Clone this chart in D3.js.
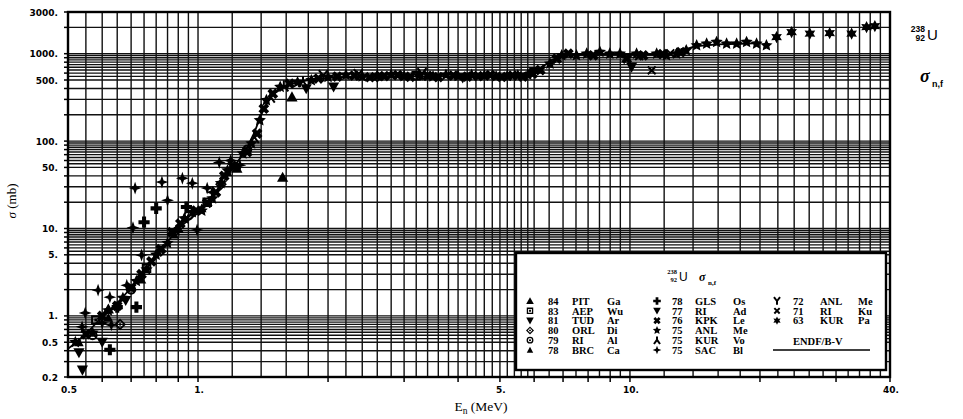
<!DOCTYPE html>
<html><head><meta charset="utf-8">
<script src="https://cdn.jsdelivr.net/npm/d3@7"></script>
<style>body{margin:0;background:#fff}svg{display:block}</style>
</head><body><svg id="c" width="963" height="419"></svg>
<script>
// ---------------- data ----------------
const xTickLabels = [0.5, 1, 5, 10, 40];
const xTickText = ["0.5", "1.", "5.", "10.", "40."];
const yTickLabels = [0.2, 0.5, 1, 5, 10, 50, 100, 500, 1000, 3000];
const yTickText = ["0.2", "0.5", "1.", "5.", "10.", "50.", "100.", "500.", "1000.", "3000."];

// ENDF/B-V evaluation
const endfE = [0.5,0.55,0.6,0.65,0.7,0.75,0.8,0.85,0.9,0.95,1.0,1.05,1.1,1.15,1.2,1.25,1.3,1.35,1.4,1.45,1.5,
  1.6,1.7,1.8,2.0,2.5,3.0,3.5,4.0,4.5,5.0,5.5,6.0,6.3,6.6,7.0,7.5,8,9,10,11,12,12.5,13,13.5,14,15,16,18,20];
const endfS = [0.42,0.62,0.98,1.4,2.1,3.2,4.8,7.0,10,12.5,15,19,25,35,48,63,85,125,200,280,350,
  430,470,500,530,545,550,550,555,555,550,560,610,720,850,940,975,985,990,990,980,985,1010,1060,1130,1200,1250,1280,1300,1320];

// measurements (E in MeV, sigma in mb)
const pit84E = [1.57, 1.65, 1.23, 0.62, 0.9];
const pit84S = [38.6, 320, 49, 1.2, 10];
const aep83E = [0.58, 0.76, 1.05, 3.2];
const aep83S = [0.9, 3.5, 20, 560];
const tud81E = [0.54, 0.53, 0.6, 0.68];
const tud81S = [0.24, 0.38, 0.5, 1.5];
const orl80E = [0.66, 0.82, 1.13, 2.6];
const orl80S = [0.8, 5.5, 32, 545];
const ri79E = [0.57, 0.7, 0.95, 1.3];
const ri79S = [0.6, 2.0, 14, 80];
const brc78E = [0.53, 0.62, 0.74, 0.88, 1.02, 1.17];
const brc78S = [0.5, 0.95, 2.6, 8.5, 17, 44];
const gls78E = [0.625, 0.72, 0.75, 0.8, 0.94, 0.65];
const gls78S = [0.41, 1.26, 11.8, 17, 17.6, 1.26];
const ri77E = [2.06, 1.78, 6.0, 10.09, 4.1];
const ri77S = [416, 398, 620, 703, 530];
const kpk76E = [0.55,0.6,0.65,0.7,0.74,0.78,0.82,0.87,0.91,0.99,1.05,1.1,1.15,1.2,1.3,1.37,1.42,1.49,1.63,
  1.9,2.1,2.3,2.5,2.7,2.9,3.1,3.4,3.6,3.9,4.2,4.45,4.75,5.05,5.35,5.65,5.95,
  6.2,6.77,7.2,8.22,9.83,10.73,11.9,13.1];
const kpk76S = [0.62,1.0,1.3,2.1,3.0,4.2,5.8,9.1,11.4,16,19.6,26,40,52,75,122,235,349,454,
  520,548,562,538,555,568,545,558,540,562,548,555,570,542,560,548,590,
  650,877,1000,957,877,957,990,1040];
const anl75E = [0.52,0.57,0.62,0.67,0.72,0.76,0.8,0.85,0.89,0.93,0.97,1.02,1.08,1.13,1.17,1.27,1.33,1.39,1.44,1.55,1.7,1.83,
  2.0,2.2,2.4,2.6,2.8,3.0,3.25,3.5,3.75,4.0,4.3,4.6,4.9,5.2,5.5,5.8,
  6.53,6.95,7.52,7.94,8.52,8.98,9.48,10.36,11.53,12.15,12.82,13.5,14.27,15.05,15.87,16.74,17.66,18.62,19.64,20.7];
const anl75S = [0.5,0.64,1.15,1.6,2.5,3.4,5.0,6.8,9.5,13,15.3,16,22,33,46,72,94,173,293,416,470,496,
  540,570,548,560,575,552,565,548,570,556,572,560,548,556,565,575,
  769,957,957,1000,1045,1000,1000,1000,1000,957,1000,1092,1245,1302,1358,1302,1302,1358,1302,1245];
const kur75E = [1.35, 1.47, 1.58, 1.75];
const kur75S = [110, 320, 430, 480];
const sac75E = [0.539,0.548,0.587,0.625,0.684,0.707,0.715,0.74,0.825,0.85,0.92,0.97,1.05,1.08,1.12,1.19,1.25,0.995,0.6,0.63];
const sac75S = [0.75,1.08,1.97,1.64,2.24,10.2,29,4.97,34,21,37.6,33,29,26,57,60,53,9.6,0.83,0.79];
const anl72E = [1.95, 2.35, 3.3];
const anl72S = [560, 575, 590];
const ri71E = [11.23, 10.5, 12.4];
const ri71S = [645, 940, 1010];
const kur63E = [21.85, 23.67, 26.1, 29.0, 32.6, 35.3, 36.9];
const kur63S = [1550, 1767, 1695, 1722, 1695, 2015, 2070];

const legendYears = ["84","83","81","80","79","78","78","77","76","75","75","75","72","71","63"];
const legendLabs  = ["PIT","AEP","TUD","ORL","RI","BRC","GLS","RI","KPK","ANL","KUR","SAC","ANL","RI","KUR"];
const legendAuth  = ["Ga","Wu","Ar","Di","Al","Ca","Os","Ad","Le","Me","Vo","Bl","Me","Ku","Pa"];
const legendShape = ["triUp","sqDot","triDown","diaDot","circDot","triSmall","plus","triDown","cross","star5","lambda","star4","Y","x","star6"];
const seriesE = [pit84E,aep83E,tud81E,orl80E,ri79E,brc78E,gls78E,ri77E,kpk76E,anl75E,kur75E,sac75E,anl72E,ri71E,kur63E];
const seriesS = [pit84S,aep83S,tud81S,orl80S,ri79S,brc78S,gls78S,ri77S,kpk76S,anl75S,kur75S,sac75S,anl72S,ri71S,kur63S];

// ---------------- drawing ----------------
const svg = d3.select("#c");
const X0 = 68, X1 = 890, Y0 = 377, Y1 = 12;
const x = d3.scaleLog().domain([0.5, 40]).range([X0, X1]);
const y = d3.scaleLog().domain([0.2, 3000]).range([Y0, Y1]);

// grid
const xGrid = [].concat(d3.range(0.55, 1.0001, 0.05), d3.range(1.2, 6.0001, 0.2), d3.range(6.5, 10.0001, 0.5), d3.range(12, 39.9, 2));
const mant = [1,2,3,4,5,5.5,6,6.5,7,7.5,8,8.5,9,9.5];
const yGrid = [];
for (let k = -1; k <= 3; k++) mant.forEach(m => { const v = m * Math.pow(10, k); if (v > 0.2001 && v < 2999) yGrid.push(v); });

const g = svg.append("g");
g.selectAll("line.vg").data(xGrid).join("line")
  .attr("x1", d => x(d)).attr("x2", d => x(d)).attr("y1", Y1).attr("y2", Y0)
  .attr("stroke", "#111").attr("stroke-width", 1.4);
g.selectAll("line.hg").data(yGrid).join("line")
  .attr("x1", X0).attr("x2", X1).attr("y1", d => y(d)).attr("y2", d => y(d))
  .attr("stroke", "#111").attr("stroke-width", 1.4);

// frame
svg.append("rect").attr("x", X0).attr("y", Y1).attr("width", X1 - X0).attr("height", Y0 - Y1)
  .attr("fill", "none").attr("stroke", "#000").attr("stroke-width", 2.4);

// bottom ticks
const xMinor = [0.6,0.7,0.8,0.9,1,2,3,4,5,6,7,8,9,10,20,30,40];
svg.selectAll("line.xt").data(xMinor).join("line")
  .attr("x1", d => x(d)).attr("x2", d => x(d)).attr("y1", Y0).attr("y2", Y0 + 5)
  .attr("stroke", "#000").attr("stroke-width", 1.5);
// left ticks
const yMinor = [];
for (let k = -1; k <= 3; k++) [1,2,3,4,5,6,7,8,9].forEach(m => { const v = m * Math.pow(10, k); if (v >= 0.2 && v <= 3000) yMinor.push(v); });
svg.selectAll("line.yt").data(yMinor).join("line")
  .attr("x1", X0 - 4).attr("x2", X0).attr("y1", d => y(d)).attr("y2", d => y(d))
  .attr("stroke", "#000").attr("stroke-width", 1.5);

// tick labels
const tickFont = "'DejaVu Sans', sans-serif";
svg.selectAll("text.yl").data(yTickLabels).join("text")
  .attr("x", 58).attr("y", d => y(d) + 3.5).attr("text-anchor", "end")
  .attr("font-family", tickFont).attr("font-weight", "bold").attr("font-size", 9)
  .text((d, i) => yTickText[i]);
svg.selectAll("text.xl").data(xTickLabels).join("text")
  .attr("x", d => x(d) + 1).attr("y", 393).attr("text-anchor", "middle")
  .attr("font-family", tickFont).attr("font-weight", "bold").attr("font-size", 9)
  .text((d, i) => xTickText[i]);

// axis titles
const xt = svg.append("text").attr("x", 481).attr("y", 411).attr("text-anchor", "middle")
  .attr("font-family", "'Liberation Serif', serif").attr("font-size", 13.5);
xt.append("tspan").text("E");
xt.append("tspan").attr("font-size", 9.5).attr("dy", 3).text("n");
xt.append("tspan").attr("dy", -3).text(" (MeV)");
svg.append("text").attr("transform", "translate(16,201) rotate(-90)").attr("text-anchor", "middle")
  .attr("font-family", "'Liberation Serif', serif").attr("font-size", 13)
  .html('<tspan font-style="italic">σ</tspan> (mb)');

// right title
const rt = svg.append("g").attr("font-family", "'Liberation Sans', Arial, sans-serif").attr("font-weight", "bold");
rt.append("text").attr("x", 925).attr("y", 31.5).attr("text-anchor", "end").attr("font-size", 8.5).text("238");
rt.append("text").attr("x", 925).attr("y", 41).attr("text-anchor", "end").attr("font-size", 8.5).text("92");
rt.append("text").attr("x", 927).attr("y", 40).attr("font-size", 15).attr("font-weight", "normal").text("U");
rt.append("text").attr("x", 920).attr("y", 82).attr("font-size", 18).attr("font-style", "italic")
  .attr("font-family", "'Liberation Serif', serif").text("σ");
rt.append("text").attr("x", 932).attr("y", 87).attr("font-size", 9).text("n,f");

// symbol shapes
function poly(pts) { return "M" + pts.map(p => p[0].toFixed(2) + "," + p[1].toFixed(2)).join("L") + "Z"; }
function star(n, ro, ri, rot) {
  const pts = [];
  for (let i = 0; i < 2 * n; i++) {
    const a = rot + i * Math.PI / n, rr = i % 2 ? ri : ro;
    pts.push([rr * Math.sin(a), -rr * Math.cos(a)]);
  }
  return poly(pts);
}
function sq(h) { return poly([[-h,-h],[h,-h],[h,h],[-h,h]]); }
function dia(h) { return poly([[0,-h],[h,0],[0,h],[-h,0]]); }
function circ(r) { return `M${r},0A${r},${r} 0 1,1 ${-r},0A${r},${r} 0 1,1 ${r},0Z`; }
function plusPts(r, w) { return [[-w,-r],[w,-r],[w,-w],[r,-w],[r,w],[w,w],[w,r],[-w,r],[-w,w],[-r,w],[-r,-w],[-w,-w]]; }
function shape(t, r) {
  switch (t) {
    case "triUp": return { d: poly([[0,-r],[r,r*0.8],[-r,r*0.8]]), m: "fill" };
    case "triSmall": return { d: poly([[0,-r*0.85],[r*0.85,r*0.7],[-r*0.85,r*0.7]]), m: "fill" };
    case "triDown": return { d: poly([[0,r],[r,-r*0.8],[-r,-r*0.8]]), m: "fill" };
    case "plus": return { d: poly(plusPts(r, r * 0.36)), m: "fill" };
    case "cross": { const c = Math.SQRT1_2; return { d: poly(plusPts(r, r * 0.36).map(p => [c*(p[0]-p[1]), c*(p[0]+p[1])])), m: "fill" }; }
    case "star5": return { d: star(5, r * 1.15, r * 0.55, 0), m: "fill" };
    case "star4": return { d: star(4, r * 1.15, r * 0.42, 0), m: "fill" };
    case "star6": return { d: star(6, r * 1.1, r * 0.6, 0), m: "fill" };
    case "sqDot": return { d: sq(r*0.85) + sq(r*0.5) + sq(r*0.25), m: "evenodd" };
    case "circDot": return { d: circ(r*0.9) + circ(r*0.55) + circ(r*0.27), m: "evenodd" };
    case "diaDot": return { d: dia(r*1.05) + dia(r*0.6) + dia(r*0.3), m: "evenodd" };
    case "lambda": return { d: `M0,${-r}L0,${-r*0.1}M${-r*0.8},${r}L0,${-r*0.1}L${r*0.8},${r}`, m: "stroke" };
    case "Y": return { d: `M${-r*0.8},${-r}L0,0L${r*0.8},${-r}M0,0L0,${r}`, m: "stroke" };
    case "x": return { d: `M${-r*0.7},${-r*0.7}L${r*0.7},${r*0.7}M${r*0.7},${-r*0.7}L${-r*0.7},${r*0.7}`, m: "stroke" };
  }
}
function drawSym(sel, t, r) {
  const s = shape(t, r);
  sel.attr("d", s.d);
  if (s.m === "stroke") sel.attr("fill", "none").attr("stroke", "#000").attr("stroke-width", 2);
  else sel.attr("fill", "#000").attr("fill-rule", s.m === "evenodd" ? "evenodd" : "nonzero");
}

// ENDF line
const line = d3.line().x(d => x(d[0])).y(d => y(d[1]));
svg.append("path").datum(endfE.map((e, i) => [e, endfS[i]])).attr("d", line)
  .attr("fill", "none").attr("stroke", "#000").attr("stroke-width", 1.8);

// markers
const mk = svg.append("g");
seriesE.forEach((es, si) => {
  const pts = es.map((e, i) => [e, seriesS[si][i]]);
  mk.selectAll(null).data(pts).join("path")
    .attr("transform", d => `translate(${x(d[0])},${y(d[1])})`)
    .each(function () { drawSym(d3.select(this), legendShape[si], 5.6); });
});

// legend
const L = svg.append("g");
L.append("rect").attr("x", 516).attr("y", 253).attr("width", 370).attr("height", 117)
  .attr("fill", "#fff").attr("stroke", "#000").attr("stroke-width", 2.4);
const lt = L.append("g").attr("font-family", "'Liberation Serif', serif").attr("font-weight", "bold");
lt.append("text").attr("x", 677).attr("y", 273.5).attr("text-anchor", "end").attr("font-size", 6.5).text("238");
lt.append("text").attr("x", 677).attr("y", 281.5).attr("text-anchor", "end").attr("font-size", 6.5).text("92");
lt.append("text").attr("x", 679).attr("y", 281).attr("font-size", 12).attr("font-weight", "normal").attr("font-family", "'Liberation Sans', sans-serif").text("U");
lt.append("text").attr("x", 699).attr("y", 281).attr("font-size", 12).attr("font-style", "italic").text("σ");
lt.append("text").attr("x", 708).attr("y", 284.5).attr("font-size", 7).text("n,f");

const colSym = [530, 657, 777], colYear = [548, 672, 793], colLab = [572, 695, 820], colAuth = [607, 733, 858];
const rowY = [301, 310.8, 320.6, 330.4, 340.2, 350];
legendYears.forEach((yr, i) => {
  const c = Math.floor(i / 6), r = i % 6;
  const cy = rowY[r];
  L.append("path").attr("transform", `translate(${colSym[c]},${cy})`).call(s => drawSym(s, legendShape[i], 3.8));
  const tg = L.append("g").attr("font-family", "'Liberation Serif', serif").attr("font-weight", "bold").attr("font-size", 10.5);
  tg.append("text").attr("x", colYear[c]).attr("y", cy + 3.8).text(yr);
  tg.append("text").attr("x", colLab[c]).attr("y", cy + 3.8).text(legendLabs[i]);
  tg.append("text").attr("x", colAuth[c]).attr("y", cy + 3.8).text(legendAuth[i]);
});
L.append("text").attr("x", 793).attr("y", 344.5).attr("font-family", "'Liberation Serif', serif")
  .attr("font-weight", "bold").attr("font-size", 10.5).text("ENDF/B-V");
L.append("line").attr("x1", 773).attr("x2", 870).attr("y1", 350).attr("y2", 350)
  .attr("stroke", "#000").attr("stroke-width", 1.4);
</script></body></html>
